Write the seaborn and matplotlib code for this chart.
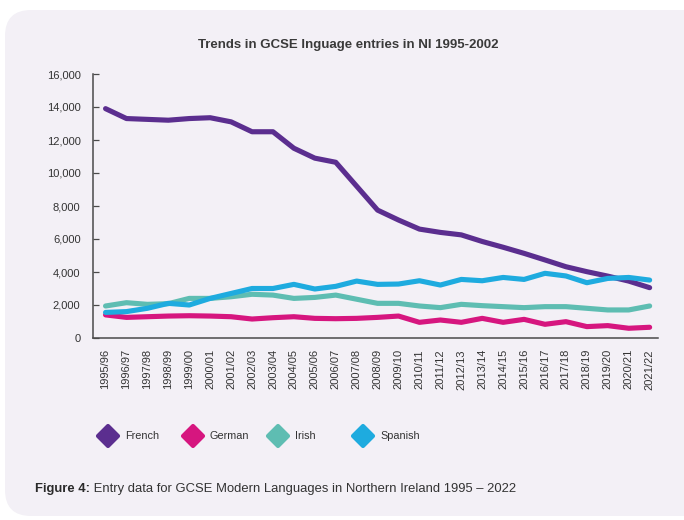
import matplotlib
matplotlib.use("Agg")
import matplotlib.pyplot as plt
from matplotlib.patches import FancyBboxPatch
from matplotlib.lines import Line2D
from matplotlib.markers import MarkerStyle
from matplotlib.transforms import IdentityTransform
from matplotlib.ticker import FuncFormatter
import seaborn as sns
import pandas as pd

# GCSE entries in Northern Ireland by academic year
years = ["1995/96", "1996/97", "1997/98", "1998/99", "1999/00", "2000/01",
         "2001/02", "2002/03", "2003/04", "2004/05", "2005/06", "2006/07",
         "2007/08", "2008/09", "2009/10", "2010/11", "2011/12", "2012/13",
         "2013/14", "2014/15", "2015/16", "2016/17", "2017/18", "2018/19",
         "2019/20", "2020/21", "2021/22"]

french = [13900, 13300, 13250, 13200, 13300, 13350, 13100, 12500, 12500,
          11500, 10900, 10650, 9200, 7750, 7150, 6600, 6400, 6250, 5850,
          5500, 5130, 4730, 4320, 4020, 3750, 3450, 3050]
german = [1400, 1250, 1290, 1330, 1350, 1330, 1290, 1150, 1230, 1290, 1190,
          1170, 1190, 1250, 1330, 950, 1090, 950, 1190, 950, 1130, 830, 990,
          690, 750, 590, 650]
irish = [1940, 2140, 2040, 2080, 2400, 2400, 2500, 2650, 2600, 2400, 2460,
         2600, 2350, 2100, 2100, 1940, 1840, 2040, 1960, 1900, 1840, 1900,
         1900, 1800, 1700, 1700, 1940]
spanish = [1550, 1600, 1800, 2100, 2000, 2400, 2700, 3000, 3000, 3250, 2970,
           3130, 3450, 3250, 3270, 3470, 3210, 3550, 3470, 3670, 3550, 3920,
           3760, 3350, 3610, 3670, 3510]

languages = ["French", "German", "Irish", "Spanish"]
colors = ["#5B2E8F", "#D6167F", "#5EBDB2", "#1EABDF"]
y_ticks = [0, 2000, 4000, 6000, 8000, 10000, 12000, 14000, 16000]

title = "Trends in GCSE lnguage entries in NI 1995-2002"
caption_bold = "Figure 4:"
caption_rest = " Entry data for GCSE Modern Languages in Northern Ireland 1995 \u2013 2022"

series = {"French": french, "German": german, "Irish": irish, "Spanish": spanish}
df = pd.DataFrame(
    [(i, yr, lang, series[lang][i]) for lang in languages for i, yr in enumerate(years)],
    columns=["idx", "year", "language", "entries"],
)

sns.set_theme(style="white")
plt.rcParams["font.family"] = ["Liberation Sans", "DejaVu Sans"]

W, H = 684, 520
fig = plt.figure(figsize=(W / 100, H / 100), dpi=100, facecolor="white")

# soft lavender card behind the chart
card = FancyBboxPatch((5, 4), 720, 506,
                      boxstyle="round,pad=0,rounding_size=26",
                      transform=IdentityTransform(),
                      facecolor="#F3F0F6", edgecolor="none", zorder=0)
fig.add_artist(card)

ax = fig.add_axes([93 / W, 1 - 338 / H, (658 - 93) / W, (338 - 74) / H])
ax.set_facecolor("none")

sns.lineplot(data=df, x="idx", y="entries", hue="language",
             hue_order=languages, palette=colors, linewidth=3.7,
             legend=False, ax=ax, sort=False)
for line in ax.get_lines():
    line.set_solid_joinstyle("round")
    line.set_solid_capstyle("round")

ax.set_xlim(-0.6, 26.4)
ax.set_ylim(0, 16000)
ax.set_yticks(y_ticks)
ax.yaxis.set_major_formatter(FuncFormatter(lambda v, p: f"{int(v):,}"))
ax.set_xticks(range(len(years)))
ax.set_xticklabels(years, rotation=90)
ax.set_xlabel("")
ax.set_ylabel("")
ax.grid(False)

for side in ("top", "right"):
    ax.spines[side].set_visible(False)
for side in ("left", "bottom"):
    ax.spines[side].set_color("#4a4a4a")
    ax.spines[side].set_linewidth(1.1)

ax.tick_params(axis="y", which="major", left=True, direction="in", length=4.5,
               width=0.9, color="#4a4a4a", pad=9, labelsize=8,
               labelcolor="#333333")
ax.tick_params(axis="x", which="major", bottom=False, length=0, pad=8,
               labelsize=8, labelcolor="#333333")

fig.text(348 / W, 1 - 45 / H, title, ha="center", va="center", fontsize=9.5,
         fontweight="bold", color="#3a3a3a")

# legend row: diamond swatches on an even grid
for i, (lang, col) in enumerate(zip(languages, colors)):
    x0 = 108 + 85 * i
    ms = MarkerStyle("D", joinstyle="round")
    fig.add_artist(Line2D([x0 / W], [1 - 436 / H], marker=ms, markersize=10.5,
                          markerfacecolor=col, markeredgecolor=col,
                          markeredgewidth=3, linestyle="none",
                          transform=fig.transFigure))
    fig.text((x0 + 17) / W, 1 - 436 / H, lang, ha="left", va="center",
             fontsize=7.8, color="#333333")

cap_y = 1 - 489 / H
t1 = fig.text(35 / W, cap_y, caption_bold, ha="left", va="center",
              fontsize=9.35, fontweight="bold", color="#2a2a2a")
fig.canvas.draw()
bb = t1.get_window_extent(renderer=fig.canvas.get_renderer())
fig.text(bb.x1 / W, cap_y, caption_rest, ha="left", va="center",
         fontsize=9.35, color="#333333")

fig.savefig("out.png", dpi=100, facecolor="white")
